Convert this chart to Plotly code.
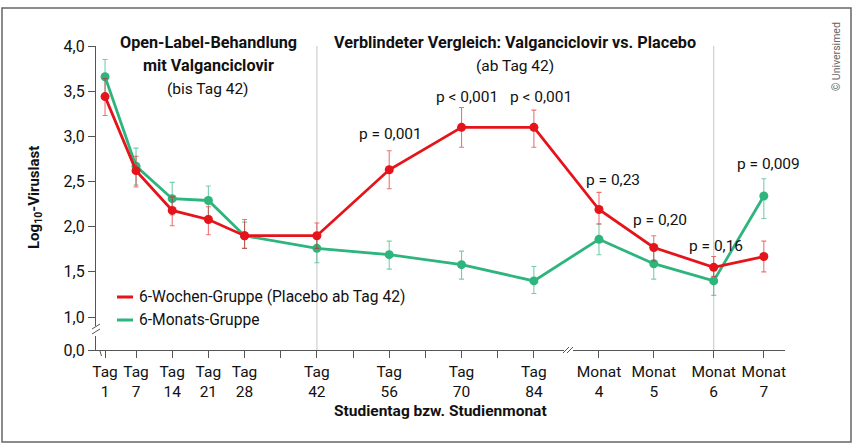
import plotly.graph_objects as go

# positions on the x axis (study day; months placed after the axis break)
tick_pos = [1, 7, 14, 21, 28, 35, 42, 49, 56, 63, 70, 77, 84, 96.6, 107.2, 118.8, 128.5]
tick_text = ["Tag<br>1", "Tag<br>7", "Tag<br>14", "Tag<br>21", "Tag<br>28", "",
             "Tag<br>42", "", "Tag<br>56", "", "Tag<br>70", "", "Tag<br>84",
             "Monat<br>4", "Monat<br>5", "Monat<br>6", "Monat<br>7"]
x_vals = [1, 7, 14, 21, 28, 42, 56, 70, 84, 96.6, 107.2, 118.8, 128.5]

red_name = "6-Wochen-Gruppe (Placebo ab Tag 42)"
red_y = [3.44, 2.62, 2.18, 2.08, 1.90, 1.90, 2.63, 3.10, 3.10, 2.19, 1.77, 1.55, 1.67]
red_hi = [3.64, 2.78, 2.33, 2.22, 2.08, 2.04, 2.84, 3.32, 3.29, 2.38, 1.90, 1.67, 1.84]
red_lo = [3.23, 2.44, 2.01, 1.91, 1.76, 1.76, 2.42, 2.88, 2.88, 2.03, 1.62, 1.45, 1.50]

green_name = "6-Monats-Gruppe"
green_y = [3.66, 2.67, 2.31, 2.29, 1.90, 1.76, 1.69, 1.58, 1.40, 1.86, 1.59, 1.40, 2.34]
green_hi = [3.85, 2.87, 2.49, 2.45, 2.05, 1.92, 1.84, 1.73, 1.56, 2.03, 1.74, 1.55, 2.53]
green_lo = [3.47, 2.46, 2.13, 2.12, 1.76, 1.60, 1.53, 1.42, 1.26, 1.69, 1.42, 1.24, 2.09]

p_labels = ["p = 0,001", "p < 0,001", "p < 0,001", "p = 0,23", "p = 0,20", "p = 0,16", "p = 0,009"]
p_x = [56.3, 71.1, 85.3, 99.3, 108.4, 119.2, 129.5]
p_y = [3.03, 3.44, 3.44, 2.52, 2.07, 1.79, 2.69]

y_ticks = [0.635, 1.0, 1.5, 2.0, 2.5, 3.0, 3.5, 4.0]
y_text = ["0,0", "1,0", "1,5", "2,0", "2,5", "3,0", "3,5", "4,0"]

RED = "#e5141b"
GREEN = "#2eb57d"
FONT = "Roboto, Liberation Sans, sans-serif"
INK = "#111111"

W, H = 854, 444
L, R, T, B = 96, 69, 46, 94
PW, PH = W - L - R, H - T - B


def px(x):
    return (x - L) / PW


def py(y):
    return (H - B - y) / PH


def series(y, hi, lo, color, err_color):
    return go.Scatter(
        x=x_vals, y=y, mode="lines+markers", showlegend=False,
        line=dict(color=color, width=2.8),
        marker=dict(color=color, size=9),
        error_y=dict(type="data", symmetric=False,
                     array=[h - v for h, v in zip(hi, y)],
                     arrayminus=[v - l for v, l in zip(y, lo)],
                     color=err_color, thickness=1.1, width=2.5),
    )


fig = go.Figure([series(green_y, green_hi, green_lo, GREEN, "rgba(46,181,125,0.65)"),
                 series(red_y, red_hi, red_lo, RED, "rgba(229,20,27,0.6)")])

shapes = []
# grey separators at Tag 42 and Monat 6
for xv in [42, 118.8]:
    shapes.append(dict(type="line", xref="x", yref="paper", x0=xv, x1=xv, y0=0, y1=1,
                       line=dict(color="#cfcfcf", width=1.2), layer="below"))
# y axis break
shapes.append(dict(type="line", xref="paper", yref="paper", x0=px(96), x1=px(96),
                   y0=py(336), y1=py(326), line=dict(color="white", width=4)))
for dy in [0, 5]:
    shapes.append(dict(type="line", xref="paper", yref="paper", x0=px(92), x1=px(100),
                       y0=py(334 - dy), y1=py(329 - dy), line=dict(color="#555", width=1)))
# x axis break
shapes.append(dict(type="line", xref="paper", yref="paper", x0=px(564), x1=px(573),
                   y0=py(350), y1=py(350), line=dict(color="white", width=4)))
for dx in [0, 4]:
    shapes.append(dict(type="line", xref="paper", yref="paper", x0=px(563 + dx), x1=px(569 + dx),
                       y0=py(353), y1=py(347), line=dict(color="#555", width=1)))
shapes.append(dict(type="line", xref="paper", yref="paper", x0=px(100), x1=px(101.5),
                   y0=py(351), y1=py(356), line=dict(color="#555", width=1)))
# manual legend
for i, col in enumerate([RED, GREEN]):
    yy = 297 + 23 * i
    shapes.append(dict(type="line", xref="paper", yref="paper", x0=px(117), x1=px(133),
                       y0=py(yy), y1=py(yy), line=dict(color=col, width=3)))
# frame
shapes.append(dict(type="rect", xref="paper", yref="paper", x0=px(2), x1=px(851),
                   y0=py(442), y1=py(8), line=dict(color="#666", width=1.5)))

ann = []
for t, xv, yv in zip(p_labels, p_x, p_y):
    ann.append(dict(x=xv, y=yv, xref="x", yref="y", text=t, showarrow=False,
                    xanchor="center", yanchor="middle", font=dict(size=15.5, color=INK)))
for i, name in enumerate([red_name, green_name]):
    ann.append(dict(x=px(137), y=py(297 + 23 * i), xref="paper", yref="paper", text=name,
                    showarrow=False, xanchor="left", yanchor="middle",
                    font=dict(size=15.6, color=INK)))
heads = [("<b>Open-Label-Behandlung</b>", 208, 43, 16.2), ("<b>mit Valganciclovir</b>", 208, 65.5, 16.2),
         ("(bis Tag 42)", 208, 89, 15.5),
         ("<b>Verblindeter Vergleich: Valganciclovir vs. Placebo</b>", 515, 43, 16.2),
         ("(ab Tag 42)", 515, 65.5, 15.5)]
for t, hx, hy, fs in heads:
    ann.append(dict(x=px(hx), y=py(hy), xref="paper", yref="paper", text=t, showarrow=False,
                    xanchor="center", yanchor="middle", font=dict(size=fs, color=INK)))
ann.append(dict(x=px(440), y=py(411), xref="paper", yref="paper",
                text="<b>Studientag bzw. Studienmonat</b>", showarrow=False,
                xanchor="center", yanchor="middle", font=dict(size=15.5, color=INK)))
ann.append(dict(x=px(35), y=py(197), xref="paper", yref="paper",
                text="<b>Log<sub>10</sub>-Viruslast</b>", showarrow=False, textangle=-90,
                xanchor="center", yanchor="middle", font=dict(size=15, color=INK)))
ann.append(dict(x=px(836), y=py(57), xref="paper", yref="paper", text="© Universimed",
                showarrow=False, textangle=-90, xanchor="center", yanchor="middle",
                font=dict(size=10.5, color="#666")))

fig.update_layout(
    width=W, height=H, margin=dict(l=L, r=R, t=T, b=B),
    paper_bgcolor="white", plot_bgcolor="white",
    font=dict(family=FONT, size=15, color=INK),
    shapes=shapes, annotations=ann,
    xaxis=dict(range=[-0.75, 132.6], tickvals=tick_pos, ticktext=tick_text,
               showline=True, linecolor="#555", linewidth=1.2, ticks="outside",
               ticklen=7, tickcolor="#555", showgrid=False, zeroline=False,
               tickfont=dict(size=15.5), ticklabelstandoff=0),
    yaxis=dict(range=[0.635, 4.0], tickvals=y_ticks, ticktext=y_text,
               showline=True, linecolor="#555", linewidth=1.2, ticks="outside",
               ticklen=7, tickcolor="#555", showgrid=False, zeroline=False,
               tickfont=dict(size=16)),
)

fig.write_html("out.html", config={"displayModeBar": False},
               post_script="document.body.style.margin='0';")
